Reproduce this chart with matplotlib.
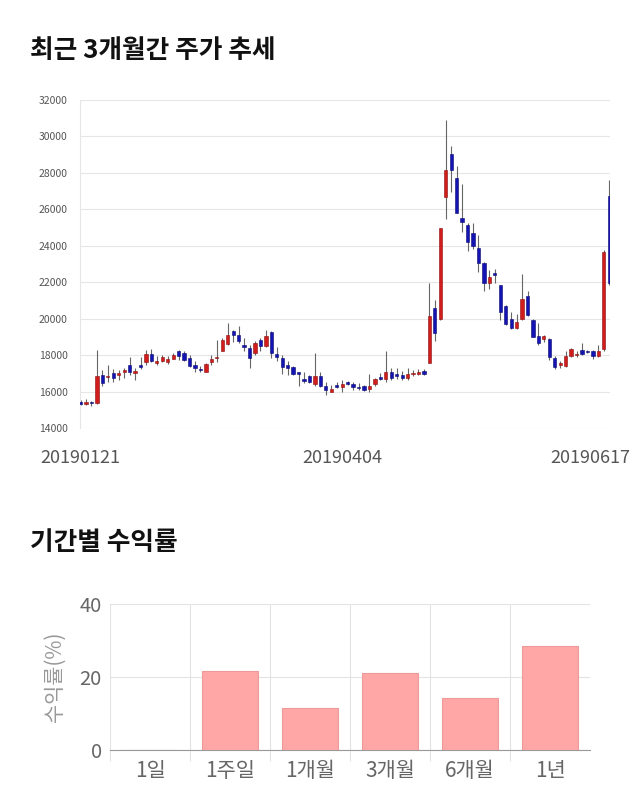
import numpy as np
import matplotlib
matplotlib.use("Agg")
import matplotlib.pyplot as plt
import matplotlib.transforms as mtrans

plt.rcParams['font.family'] = ['Noto Sans CJK KR', 'DejaVu Sans']

# ---- data: daily OHLC ----
opens = [15450, 15330, 15420, 15380, 16900, 16800, 17000, 16900, 17100, 17450,
         17000, 17470, 17600, 18050, 17560, 17650, 17600, 17810, 18200, 18100,
         17830, 17430, 17230, 17100, 17600, 17850, 18230, 18600, 19330, 19080,
         18560, 18380, 18110, 18830, 18510, 19260, 18050, 17830, 17430, 17340,
         17030, 16620, 16830, 16420, 16880, 16310, 15990, 16370, 16240, 16480,
         16420, 16200, 16280, 16130, 16420, 16790, 16680, 17060, 16920, 16900,
         16720, 16950, 16970, 17150, 17590, 20580, 19970, 26700, 29040, 27700,
         25510, 25150, 24720, 23860, 23080, 21950, 22530, 21850, 20720, 19970,
         19480, 19970, 21250, 19930, 19060, 18880, 18880, 17830, 17450, 17410,
         17960, 18000, 18290, 18220, 18200, 17960, 18330, 26740]
highs = [15550, 15600, 15500, 18300, 17200, 17450, 17230, 17200, 17300, 17900,
         17300, 17900, 18300, 18330, 17930, 18000, 17930, 18100, 18290, 18200,
         17980, 17650, 17380, 17560, 18000, 18830, 18920, 19750, 19390, 19570,
         18920, 18560, 18750, 18920, 19390, 19300, 18420, 18000, 17700, 17410,
         17100, 17100, 16920, 18110, 17050, 16540, 16370, 16500, 16610, 16560,
         16500, 16460, 16370, 16950, 16740, 17010, 18200, 17280, 17280, 17150,
         17280, 17190, 17230, 17230, 21950, 21030, 25000, 30900, 29500, 28380,
         27380, 25240, 25240, 24600, 23100, 22680, 22710, 21870, 20760, 20390,
         20260, 22460, 21490, 19960, 19750, 19110, 18930, 17930, 17700, 18200,
         18380, 18200, 18660, 18300, 18290, 18560, 23770, 27610]
lows = [15250, 15280, 15200, 15300, 16300, 16550, 16550, 16650, 16750, 16900,
        16650, 17250, 17470, 17600, 17430, 17600, 17520, 17780, 17750, 17650,
        17330, 17050, 17100, 17050, 17470, 17600, 18200, 18560, 18700, 18650,
        18200, 17280, 18020, 18250, 18470, 17830, 17650, 16970, 16920, 16920,
        16310, 16460, 16460, 16330, 16270, 15820, 15950, 16200, 16000, 16380,
        16100, 16100, 16050, 16000, 16330, 16650, 16520, 16650, 16700, 16650,
        16650, 16830, 16900, 16900, 17550, 18750, 19930, 25460, 26970, 25780,
        24780, 23720, 23810, 22580, 21520, 21630, 21950, 19930, 19660, 19440,
        19440, 19930, 20150, 19000, 18560, 18700, 17740, 17230, 17280, 17330,
        17870, 17900, 17980, 18100, 17780, 17910, 18200, 21850]
closes = [15300, 15400, 15350, 16830, 16450, 16850, 16750, 17000, 17150, 17050,
          17130, 17320, 18070, 17650, 17700, 17870, 17780, 17980, 17930, 17750,
          17410, 17270, 17160, 17520, 17780, 17890, 18830, 19110, 19080, 18750,
          18450, 17830, 18650, 18500, 19060, 18140, 17870, 17320, 17270, 16990,
          16990, 16600, 16500, 16880, 16310, 16090, 16130, 16240, 16390, 16440,
          16240, 16180, 16100, 16330, 16680, 16700, 17060, 16740, 16880, 16720,
          16970, 17010, 17080, 16950, 20150, 19200, 24960, 28160, 28160, 25820,
          25290, 24230, 23960, 23040, 21950, 22270, 22380, 20350, 19720, 19480,
          19810, 21070, 20210, 19020, 18660, 19060, 17890, 17340, 17560, 17960,
          18330, 18040, 18050, 18180, 17930, 18200, 23680, 21980]
date_labels = ["20190121", "20190404", "20190617"]

periods = ["1일", "1주일", "1개월", "3개월", "6개월", "1년"]
returns = [0, 21.6, 11.5, 21.0, 14.3, 28.5]

fig = plt.figure(figsize=(6.4, 8.1), dpi=100)

#%% candlestick chart
ax = fig.add_axes([0.125, 0.4716, 0.828, 0.405])
o = np.array(opens); h = np.array(highs); l = np.array(lows); c = np.array(closes)
x = np.arange(len(o))
up = c >= o
cols = np.where(up, '#d21d1d', '#1414b4')
edges = np.where(up, '#8a1010', '#0a0a70')

ax.vlines(x, l, h, color='#666666', linewidth=0.8, zorder=2)
body_lo = np.minimum(o, c)
body_h = np.maximum(np.abs(c - o), 70)
ax.bar(x, body_h, bottom=body_lo, width=0.6, color=cols, edgecolor=edges,
       linewidth=0.4, zorder=3)

ax.set_ylim(14000, 32000)
ax.set_xlim(-0.1, len(o) - 1 + 0.12)
ax.set_yticks(np.arange(14000, 32001, 2000))
ax.tick_params(axis='y', labelsize=7.5, colors='#555555', length=0, pad=9)
ax.grid(axis='y', color='#e6e6e6', linewidth=0.8)
ax.set_axisbelow(True)
ax.set_xticks([0, 48, len(o) - 1])
ax.set_xticklabels(date_labels)
ax.tick_params(axis='x', labelsize=13, colors='#555555', length=0, pad=15)
lab = ax.get_xticklabels()[-1]
lab.set_transform(lab.get_transform() + mtrans.ScaledTranslation(-0.19, 0, fig.dpi_scale_trans))
for s in ['top', 'right', 'bottom']:
    ax.spines[s].set_visible(False)
ax.spines['left'].set_color('#e6e6e6')

fig.text(30 / 640, 1 - 50 / 810, "최근 3개월간 주가 추세", fontsize=18.5,
         fontweight='bold', va='center', ha='left', color='#111111')

#%% returns bar chart
ax2 = fig.add_axes([0.1719, 0.0741, 0.75, 0.1802])
xb = np.arange(len(periods))
ax2.bar(xb, returns, width=0.7, color='#ffa6a6', edgecolor='#ee9a9a', linewidth=0.8, zorder=3)
ax2.set_xlim(-0.5, len(periods) - 0.5)
ax2.set_ylim(0, 40)
ax2.set_yticks([0, 20, 40])
ax2.set_xticks(xb)
ax2.set_xticklabels(periods)
ax2.set_xticks(np.arange(-0.5, len(periods) - 0.5, 1), minor=True)
ax2.tick_params(axis='x', which='major', length=0, labelsize=15, colors='#666666', pad=7)
ax2.tick_params(axis='x', which='minor', length=8, color='#e3e3e3', width=0.8)
ax2.tick_params(axis='y', length=0, labelsize=14.5, colors='#666666', pad=6)
ax2.grid(axis='y', color='#e3e3e3', linewidth=0.8)
ax2.grid(axis='x', which='minor', color='#e3e3e3', linewidth=0.8)
ax2.set_axisbelow(True)
for s in ['top', 'right', 'left']:
    ax2.spines[s].set_visible(False)
ax2.spines['bottom'].set_color('#999999')
ax2.set_ylabel("수익률(%)", fontsize=15, color='#999999', labelpad=10)

fig.text(30 / 640, 1 - 542 / 810, "기간별 수익률", fontsize=18.5,
         fontweight='bold', va='center', ha='left', color='#111111')

fig.savefig("out.png", dpi=100)
